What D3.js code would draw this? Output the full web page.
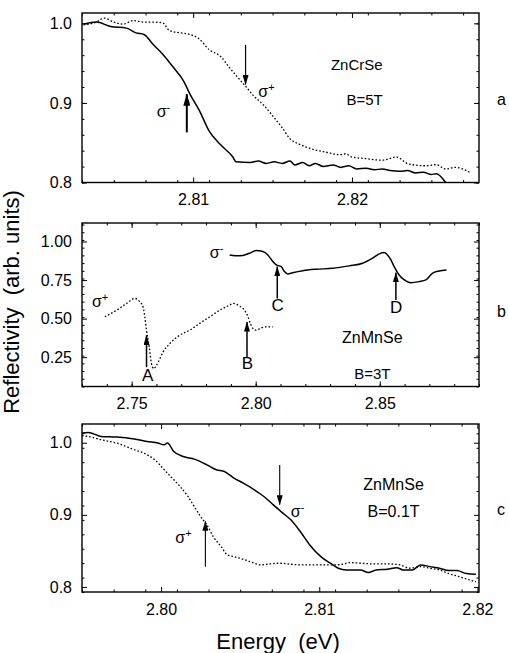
<!DOCTYPE html>
<html>
<head>
<meta charset="utf-8">
<script src="https://cdn.jsdelivr.net/npm/d3@7"></script>
<style>
  body { margin: 0; background: white; }
  svg { display: block; font-family: "Liberation Sans", Arial, sans-serif; }
  .tick text { font-size: 16px; fill: black; }
  .tick line { stroke: black; }
</style>
</head>
<body>
<div id="chart"></div>
<script>
// ---- panel a : ZnCrSe, B=5T ----
const aMinusE = [2.8031, 2.8039, 2.8048, 2.8058, 2.8064, 2.8069, 2.8075, 2.8081, 2.8087, 2.8094, 2.8098, 2.8104, 2.8110, 2.8117, 2.8125, 2.8127,
  2.8136, 2.8141, 2.8146, 2.8151, 2.8156, 2.8161, 2.8164, 2.8169, 2.8173, 2.8177, 2.8182, 2.8188, 2.8193, 2.8198, 2.8203, 2.8209,
  2.8214, 2.8219, 2.8224, 2.8230, 2.8235, 2.8240, 2.8245, 2.8250, 2.8253, 2.8259];
const aMinusR = [0.999, 1.0016, 0.996, 0.994, 0.988, 0.986, 0.973, 0.961, 0.946, 0.9275, 0.911, 0.890, 0.865, 0.848, 0.832, 0.826,
  0.825, 0.827, 0.824, 0.826, 0.824, 0.827, 0.822, 0.825, 0.821, 0.824, 0.820, 0.822, 0.819, 0.821, 0.817, 0.818,
  0.816, 0.817, 0.815, 0.814, 0.815, 0.812, 0.813, 0.810, 0.811, 0.800];
const aPlusE = [2.8031, 2.8039, 2.8044, 2.8050, 2.8056, 2.8062, 2.8069, 2.8075, 2.8081, 2.8085, 2.8092, 2.8098, 2.8104, 2.8110, 2.8117, 2.8123,
  2.8129, 2.8133, 2.8138, 2.8144, 2.8150, 2.8156, 2.8161, 2.8167, 2.8175, 2.8184, 2.8192, 2.8196, 2.8200, 2.8209, 2.8219, 2.8228,
  2.8236, 2.8247, 2.8253, 2.8259, 2.8265, 2.8274];
const aPlusR = [0.998, 1.0016, 1.0066, 1.0016, 0.999, 1.0034, 1.0016, 1.0016, 1.0004, 0.991, 0.988, 0.986, 0.980, 0.967, 0.959, 0.944,
  0.930, 0.921, 0.909, 0.898, 0.884, 0.869, 0.855, 0.848, 0.842, 0.838, 0.835, 0.836, 0.832, 0.830, 0.828, 0.832,
  0.823, 0.821, 0.8225, 0.817, 0.819, 0.813];

// ---- panel b : ZnMnSe, B=3T ----
const bPlusE = [2.7392, 2.7440, 2.7480, 2.7513, 2.7533, 2.7546, 2.7553, 2.7560, 2.7571, 2.7580, 2.7589, 2.7600, 2.7614, 2.7627, 2.7654, 2.7694,
  2.7734, 2.7774, 2.7815, 2.7855, 2.7895, 2.7908, 2.7935, 2.7955, 2.7969, 2.7978, 2.7989, 2.8002, 2.8022, 2.8043, 2.8069];
const bPlusR = [0.512, 0.555, 0.599, 0.631, 0.609, 0.577, 0.512, 0.425, 0.316, 0.208, 0.176, 0.197, 0.241, 0.284, 0.339, 0.393,
  0.425, 0.469, 0.512, 0.555, 0.588, 0.599, 0.581, 0.555, 0.512, 0.469, 0.436, 0.425, 0.440, 0.447, 0.447];
const bMinusE = [2.7895, 2.7935, 2.7975, 2.8002, 2.8029, 2.8049, 2.8069, 2.8083, 2.8103, 2.8116, 2.8129, 2.8149, 2.8190, 2.8243, 2.8310, 2.8377,
  2.8431, 2.8471, 2.8498, 2.8518, 2.8531, 2.8545, 2.8558, 2.8578, 2.8599, 2.8625, 2.8659, 2.8686, 2.8712, 2.8739, 2.8769];
const bMinusR = [0.913, 0.907, 0.924, 0.941, 0.935, 0.913, 0.870, 0.848, 0.837, 0.805, 0.790, 0.798, 0.811, 0.820, 0.826, 0.842,
  0.859, 0.892, 0.920, 0.929, 0.913, 0.881, 0.837, 0.783, 0.751, 0.733, 0.740, 0.751, 0.794, 0.809, 0.816];

// ---- panel c : ZnMnSe, B=0.1T ----
const cMinusE = [2.7950, 2.7954, 2.7962, 2.7972, 2.7983, 2.7991, 2.7998, 2.8002, 2.8004, 2.8008, 2.8014, 2.8021, 2.8029, 2.8035, 2.8040, 2.8046,
  2.8052, 2.8059, 2.8065, 2.8071, 2.8077, 2.8082, 2.8088, 2.8094, 2.8101, 2.8107, 2.8112, 2.8117, 2.8126, 2.8131, 2.8136, 2.8143,
  2.8149, 2.8153, 2.8159, 2.8164, 2.8170, 2.8176, 2.8182, 2.8187, 2.8193, 2.8199];
const cMinusR = [1.0134, 1.0143, 1.0088, 1.0079, 1.0051, 1.0018, 0.9995, 0.9972, 0.9995, 0.9879, 0.981, 0.9773, 0.9694, 0.9625, 0.9602, 0.951,
  0.944, 0.9347, 0.9255, 0.9139, 0.9023, 0.8931, 0.8769, 0.8583, 0.8421, 0.8329, 0.826, 0.8236, 0.8236, 0.820, 0.8236, 0.8245,
  0.8268, 0.8236, 0.8236, 0.8306, 0.8282, 0.826, 0.8227, 0.8227, 0.8185, 0.8176];
const cPlusE = [2.7950, 2.7954, 2.7962, 2.7972, 2.7983, 2.7989, 2.7996, 2.8002, 2.8006, 2.8012, 2.8017, 2.8021, 2.8025, 2.8029, 2.8033, 2.8038,
  2.8042, 2.8046, 2.8052, 2.8059, 2.8063, 2.8067, 2.8075, 2.8082, 2.8088, 2.8098, 2.8109, 2.8115, 2.8119, 2.8126, 2.8134, 2.8143,
  2.8151, 2.8157, 2.8164, 2.8170, 2.8176, 2.8182, 2.8189, 2.8199];
const cPlusR = [1.0097, 1.0088, 1.0042, 0.9995, 0.9903, 0.9857, 0.9764, 0.9625, 0.9532, 0.9393, 0.9255, 0.9115, 0.8976, 0.886, 0.8698, 0.8559,
  0.8444, 0.8421, 0.8384, 0.8329, 0.8306, 0.8315, 0.8329, 0.8315, 0.8306, 0.8306, 0.8306, 0.8315, 0.8338, 0.8329, 0.832, 0.832,
  0.8306, 0.826, 0.8282, 0.826, 0.8236, 0.8185, 0.8139, 0.8069];

// tick labels
const aXTicks = [2.81, 2.82], aYTicks = [0.8, 0.9, 1.0];
const bXTicks = [2.75, 2.80, 2.85], bYTicks = [0.25, 0.50, 0.75, 1.00];
const cXTicks = [2.80, 2.81, 2.82], cYTicks = [0.8, 0.9, 1.0];

// arrows: [energy, tail, tip]
const aArrows = [[2.8133, 0.973, 0.923, 1.2], [2.8096, 0.863, 0.911, 2]];
const bArrows = [[2.7560, 0.185, 0.391, 1.5], [2.7965, 0.25, 0.478, 1.5], [2.8087, 0.631, 0.837, 1.5], [2.8565, 0.62, 0.798, 1.5]];
const cArrows = [[2.8075, 0.969, 0.914, 1.1], [2.8028, 0.828, 0.891, 1.1]];

const W = 509, H = 653;
const left = 82, right = 479;

const svg = d3.select("#chart").append("svg")
    .attr("width", W)
    .attr("height", H);

const defs = svg.append("defs");
function addMarker(id, w, l) {
  defs.append("marker")
      .attr("id", id)
      .attr("markerUnits", "userSpaceOnUse")
      .attr("viewBox", `0 0 ${l} ${w}`)
      .attr("refX", l - 0.5).attr("refY", w / 2)
      .attr("markerWidth", l).attr("markerHeight", w)
      .attr("orient", "auto")
    .append("path")
      .attr("d", `M0,0L${l},${w / 2}L0,${w}Z`)
      .attr("fill", "black");
}
addMarker("head", 6, 10);
addMarker("headBig", 7, 12);

function sigma(g, px, py, sign) {
  const t = g.append("text").attr("x", px).attr("y", py).attr("font-size", 16);
  t.append("tspan").text("σ");
  t.append("tspan").attr("dy", -6).attr("font-size", 11).text(sign);
}

function panel(p) {
  const x = d3.scaleLinear().domain(p.xDomain).range([left, right]);
  const y = d3.scaleLinear().domain(p.yDomain).range([p.bottom, p.top]);
  const g = svg.append("g");

  // ticks on all four sides, pointing in
  const minorX = d3.range(p.xDomain[0], p.xDomain[1], p.xMinor).map(v => +v.toFixed(4));
  const minorY = d3.range(p.yDomain[0], p.yDomain[1], p.yMinor).map(v => +v.toFixed(3));
  const axes = [
    [d3.axisBottom, x, `translate(0,${p.bottom})`, true],
    [d3.axisTop, x, `translate(0,${p.top})`, false],
    [d3.axisLeft, y, `translate(${left},0)`, true],
    [d3.axisRight, y, `translate(${right},0)`, false]
  ];
  axes.forEach(([ax, sc, tr, labelled]) => {
    const isX = sc === x;
    g.append("g").attr("transform", tr)
        .call(ax(sc).tickValues(isX ? minorX : minorY).tickSize(-2.5).tickFormat(""))
        .call(s => s.select(".domain").remove());
    const major = ax(sc).tickValues(isX ? p.xTicks : p.yTicks).tickSize(-5)
        .tickPadding(isX ? 11.5 : 10)
        .tickFormat(labelled ? d3.format(isX ? ".2f" : p.yFormat) : "");
    g.append("g").attr("transform", tr).call(major)
        .call(s => s.select(".domain").remove());
  });

  g.append("rect")
      .attr("x", left).attr("y", p.top)
      .attr("width", right - left).attr("height", p.bottom - p.top)
      .attr("fill", "none").attr("stroke", "black").attr("stroke-width", 1.4);

  const line = d3.line().x(d => x(d[0])).y(d => y(d[1])).curve(d3.curveMonotoneX);
  p.series.forEach(s => {
    g.append("path")
        .datum(d3.zip(s.e, s.r))
        .attr("d", line)
        .attr("fill", "none")
        .attr("stroke", "black")
        .attr("stroke-width", s.dotted ? 1.3 : 1.5)
        .attr("stroke-dasharray", s.dotted ? "1.6,2" : null);
  });

  p.arrows.forEach(a => {
    g.append("line")
        .attr("x1", x(a[0])).attr("x2", x(a[0]))
        .attr("y1", y(a[1])).attr("y2", y(a[2]))
        .attr("stroke", "black").attr("stroke-width", a[3])
        .attr("marker-end", a[3] > 1.6 ? "url(#headBig)" : "url(#head)");
  });

  p.texts.forEach(t => {
    if (t.sigma) {
      sigma(g, x(t.e), y(t.r), t.sigma);
    } else {
      g.append("text")
          .attr("x", x(t.e)).attr("y", y(t.r))
          .attr("text-anchor", t.anchor || "middle")
          .attr("font-size", t.size || 15)
          .text(t.text);
    }
  });

  g.append("text")
      .attr("x", 497).attr("y", p.letterY)
      .attr("font-size", 16)
      .text(p.letter);
}

panel({
  xDomain: [2.803, 2.828], yDomain: [0.8, 1.013], top: 13, bottom: 182.5,
  xTicks: aXTicks, yTicks: aYTicks, yFormat: ".1f", xMinor: 0.002, yMinor: 0.02,
  series: [{e: aMinusE, r: aMinusR}, {e: aPlusE, r: aPlusR, dotted: true}],
  arrows: aArrows,
  texts: [
    {text: "ZnCrSe", e: 2.8203, r: 0.941},
    {text: "B=5T", e: 2.8208, r: 0.897},
    {sigma: "-", e: 2.8077, r: 0.882},
    {sigma: "+", e: 2.8141, r: 0.907}
  ],
  letter: "a", letterY: 105
});

panel({
  xDomain: [2.73, 2.89], yDomain: [0.06, 1.12], top: 223, bottom: 386.5,
  xTicks: bXTicks, yTicks: bYTicks, yFormat: ".2f", xMinor: 0.01, yMinor: 0.05,
  series: [{e: bMinusE, r: bMinusR}, {e: bPlusE, r: bPlusR, dotted: true}],
  arrows: bArrows,
  texts: [
    {text: "ZnMnSe", e: 2.847, r: 0.339, size: 16},
    {text: "B=3T", e: 2.847, r: 0.111},
    {text: "A", e: 2.7565, r: 0.098, size: 17},
    {text: "B", e: 2.7967, r: 0.176, size: 17},
    {text: "C", e: 2.8088, r: 0.548, size: 17},
    {text: "D", e: 2.8566, r: 0.535, size: 17},
    {sigma: "-", e: 2.7815, r: 0.894},
    {sigma: "+", e: 2.7340, r: 0.574}
  ],
  letter: "b", letterY: 317
});

panel({
  xDomain: [2.795, 2.8201], yDomain: [0.793, 1.026], top: 424, bottom: 592,
  xTicks: cXTicks, yTicks: cYTicks, yFormat: ".1f", xMinor: 0.002, yMinor: 0.02,
  series: [{e: cMinusE, r: cMinusR}, {e: cPlusE, r: cPlusR, dotted: true}],
  arrows: cArrows,
  texts: [
    {text: "ZnMnSe", e: 2.8147, r: 0.935, size: 16},
    {text: "B=0.1T", e: 2.8147, r: 0.897, size: 16},
    {sigma: "-", e: 2.8082, r: 0.897},
    {sigma: "+", e: 2.8009, r: 0.861}
  ],
  letter: "c", letterY: 515
});

// axis titles
svg.append("text")
    .attr("transform", "translate(19,302) rotate(-90)")
    .attr("text-anchor", "middle")
    .attr("font-size", 22)
    .attr("xml:space", "preserve")
    .text("Reflectivity  (arb. units)");

svg.append("text")
    .attr("x", 278).attr("y", 649)
    .attr("text-anchor", "middle")
    .attr("font-size", 22)
    .attr("xml:space", "preserve")
    .text("Energy  (eV)");
</script>
</body>
</html>
